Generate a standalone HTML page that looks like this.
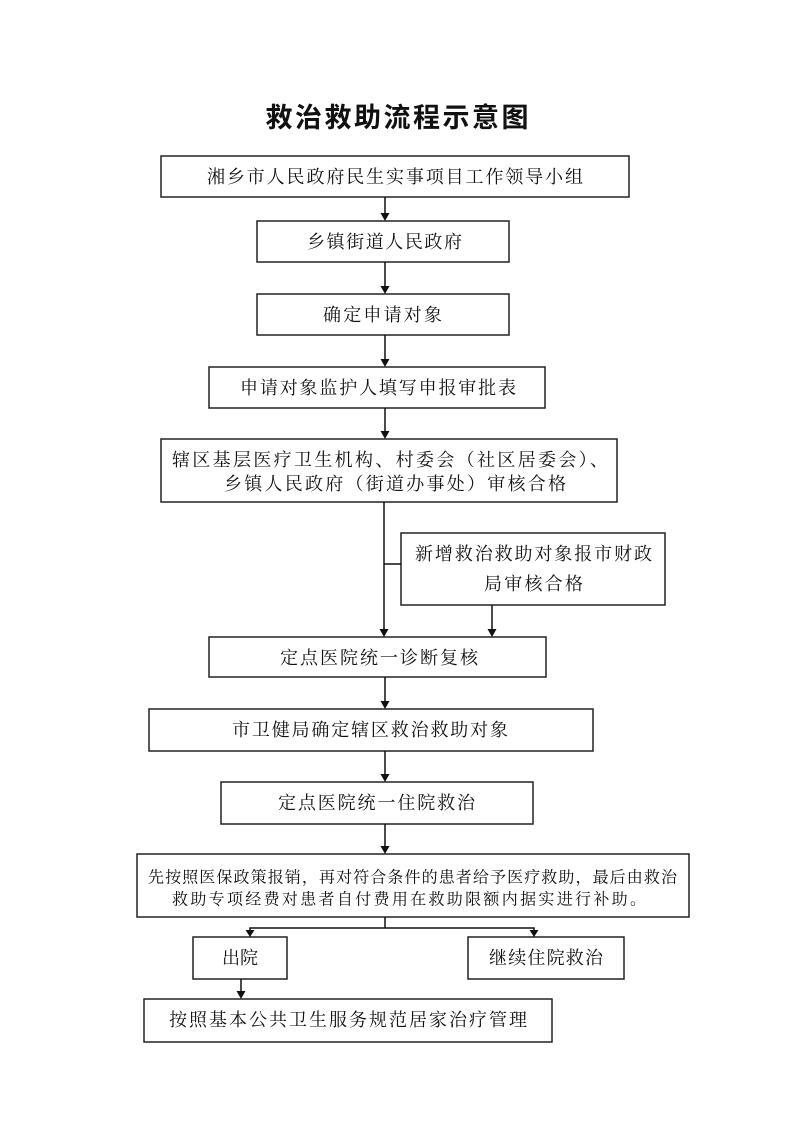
<!DOCTYPE html>
<html><head><meta charset="utf-8"><style>
html,body{margin:0;padding:0;background:#fff;}
svg{display:block;}
text{font-family:"Liberation Serif","Noto Serif CJK SC",serif;fill:#111;dominant-baseline:central;}
.t{font-size:18px;}
.s{font-size:16px;}
.b{fill:none;stroke:#222;stroke-width:1.5;}
.l{stroke:#111;stroke-width:1.5;fill:none;}
</style></head><body>
<svg width="794" height="1122" viewBox="0 0 794 1122" xmlns="http://www.w3.org/2000/svg">
<text x="397" y="118" text-anchor="middle" style="font-family:'Liberation Sans','Noto Sans CJK SC',sans-serif;font-size:27px;font-weight:bold" textLength="263" lengthAdjust="spacing">救治救助流程示意图</text>

<rect class="b" x="161" y="156" width="468" height="41"/>
<text class="t" x="207" y="177" textLength="376" lengthAdjust="spacing">湘乡市人民政府民生实事项目工作领导小组</text>
<rect class="b" x="257" y="221" width="252" height="41"/>
<text class="t" x="307" y="242" textLength="155" lengthAdjust="spacing">乡镇街道人民政府</text>
<rect class="b" x="257" y="294" width="252" height="41"/>
<text class="t" x="323" y="315" textLength="119" lengthAdjust="spacing">确定申请对象</text>
<rect class="b" x="209" y="367" width="336" height="41"/>
<text class="t" x="240" y="388" textLength="276" lengthAdjust="spacing">申请对象监护人填写申报审批表</text>
<rect class="b" x="161" y="439" width="456" height="63"/>
<text class="t" x="172" y="460" textLength="436" lengthAdjust="spacing">辖区基层医疗卫生机构、村委会（社区居委会）、</text>
<text class="t" x="224" y="484" textLength="342" lengthAdjust="spacing">乡镇人民政府（街道办事处）审核合格</text>
<rect class="b" x="401" y="533" width="264" height="72"/>
<text class="t" x="415" y="554" textLength="237" lengthAdjust="spacing">新增救治救助对象报市财政</text>
<text class="t" x="484" y="584" textLength="99" lengthAdjust="spacing">局审核合格</text>
<rect class="b" x="209" y="637" width="337" height="40"/>
<text class="t" x="280" y="658" textLength="198" lengthAdjust="spacing">定点医院统一诊断复核</text>
<rect class="b" x="149" y="709" width="444" height="42"/>
<text class="t" x="232" y="730" textLength="276" lengthAdjust="spacing">市卫健局确定辖区救治救助对象</text>
<rect class="b" x="221" y="782" width="312" height="42"/>
<text class="t" x="278" y="803" textLength="197" lengthAdjust="spacing">定点医院统一住院救治</text>
<rect class="b" x="137" y="854" width="552" height="63"/>
<text class="s" x="148" y="878" textLength="529" lengthAdjust="spacing">先按照医保政策报销，再对符合条件的患者给予医疗救助，最后由救治</text>
<text class="s" x="172" y="900" textLength="474" lengthAdjust="spacing">救助专项经费对患者自付费用在救助限额内据实进行补助。</text>
<rect class="b" x="193" y="937" width="94" height="42"/>
<text class="t" x="222" y="958" textLength="36" lengthAdjust="spacing">出院</text>
<rect class="b" x="468" y="937" width="156" height="42"/>
<text class="t" x="489" y="958" textLength="114" lengthAdjust="spacing">继续住院救治</text>
<rect class="b" x="144" y="999" width="408" height="43"/>
<text class="t" x="169" y="1020" textLength="358" lengthAdjust="spacing">按照基本公共卫生服务规范居家治疗管理</text>

<g class="l">
<line x1="385" y1="197" x2="385" y2="214"/>
<line x1="385" y1="262" x2="385" y2="287"/>
<line x1="385" y1="335" x2="385" y2="360"/>
<line x1="385" y1="408" x2="385" y2="432"/>
<line x1="384" y1="502" x2="384" y2="630"/>
<line x1="384" y1="564" x2="401" y2="564"/>
<line x1="492" y1="605" x2="492" y2="630"/>
<line x1="385" y1="677" x2="385" y2="702"/>
<line x1="385" y1="751" x2="385" y2="775"/>
<line x1="385" y1="824" x2="385" y2="847"/>
<line x1="385" y1="917" x2="385" y2="928"/>
<polyline points="250,932 250,928 534,928 534,932"/>
<line x1="241" y1="979" x2="241" y2="992"/>
</g>
<g fill="#111">
<path d="M380.5,213 L389.5,213 L385,221 z"/>
<path d="M380.5,286 L389.5,286 L385,294 z"/>
<path d="M380.5,359 L389.5,359 L385,367 z"/>
<path d="M380.5,431 L389.5,431 L385,439 z"/>
<path d="M379.5,629 L388.5,629 L384,637 z"/>
<path d="M487.5,629 L496.5,629 L492,637 z"/>
<path d="M380.5,701 L389.5,701 L385,709 z"/>
<path d="M380.5,774 L389.5,774 L385,782 z"/>
<path d="M380.5,846 L389.5,846 L385,854 z"/>
<path d="M245.5,930 L254.5,930 L250,937 z"/>
<path d="M529.5,930 L538.5,930 L534,937 z"/>
<path d="M236.5,991 L245.5,991 L241,999 z"/>
</g>
</svg>
</body></html>
